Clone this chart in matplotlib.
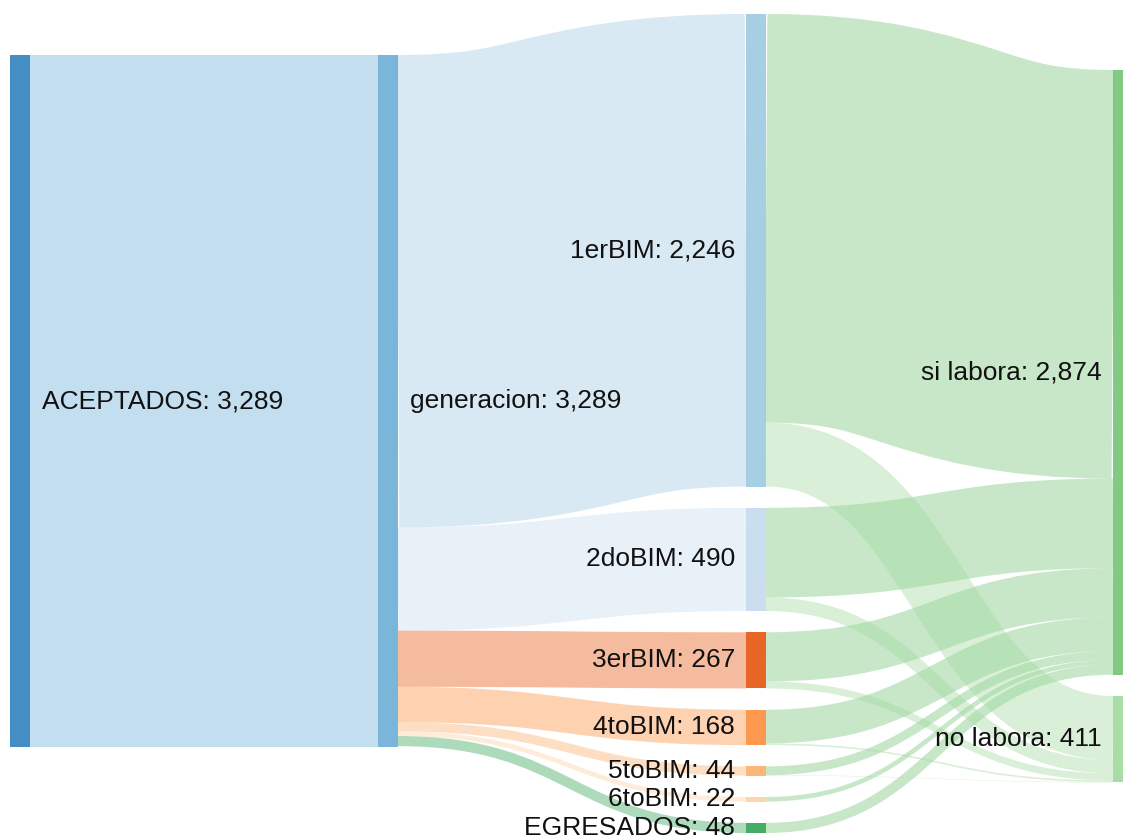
import matplotlib.pyplot as plt
from matplotlib.path import Path
from matplotlib.patches import PathPatch, Rectangle

# nodes per column
col0 = ["ACEPTADOS"]
col1 = ["generacion"]
col2 = ["1erBIM", "2doBIM", "3erBIM", "4toBIM", "5toBIM", "6toBIM", "EGRESADOS"]
col3 = ["si labora", "no labora"]

# flows
src_first = ["ACEPTADOS"]
dst_first = ["generacion"]
val_first = [3289]

bim_values = [2246, 490, 267, 168, 44, 22, 48]
si_labora = [1942, 426, 234, 160, 42, 22, 48]
no_labora = [304, 64, 33, 8, 2, 0, 0]

node_colors = {
    "ACEPTADOS": "#3182bd", "generacion": "#6baed6", "1erBIM": "#9ecae1",
    "2doBIM": "#c6dbef", "3erBIM": "#e6550d", "4toBIM": "#fd8d3c",
    "5toBIM": "#fdae6b", "6toBIM": "#fdd0a2", "EGRESADOS": "#31a354",
    "si labora": "#74c476", "no labora": "#a1d99b",
}

links = list(zip(src_first, dst_first, val_first))
links += [("generacion", b, v) for b, v in zip(col2, bim_values)]
links += [(b, "si labora", v) for b, v in zip(col2, si_labora) if v > 0]
links += [(b, "no labora", v) for b, v in zip(col2, no_labora) if v > 0]

W, H, DPI = 1123, 840, 100
columns = [col0, col1, col2, col3]
col_x = [10, 378, 746, 1113]
col_top = [55, 55, 14, 70]
node_w = 20
gap = 21.3
k = 692 / 3289  # px per person

# node values and positions
val_in = {}
val_out = {}
for s, t, v in links:
    val_out[s] = val_out.get(s, 0) + v
    val_in[t] = val_in.get(t, 0) + v
nodes = {}
for ci, col in enumerate(columns):
    y = col_top[ci]
    for name in col:
        value = max(val_in.get(name, 0), val_out.get(name, 0))
        h = value * k
        nodes[name] = dict(x=col_x[ci], y=y, h=h, value=value, col=ci)
        y += h + gap

fig = plt.figure(figsize=(W / DPI, H / DPI), dpi=DPI)
ax = fig.add_axes([0, 0, 1, 1])
ax.set_xlim(0, W)
ax.set_ylim(H, 0)
ax.axis("off")

# link stacking like d3-sankey
out_off = {n: 0.0 for n in nodes}
in_off = {n: 0.0 for n in nodes}
src_pos = {}
dst_pos = {}
for s in nodes:
    outs = sorted([l for l in links if l[0] == s], key=lambda l: nodes[l[1]]["y"])
    for l in outs:
        w = l[2] * k
        src_pos[l] = nodes[s]["y"] + out_off[s] + w / 2
        out_off[s] += w
for t in nodes:
    ins = sorted([l for l in links if l[1] == t], key=lambda l: nodes[l[0]]["y"])
    for l in ins:
        w = l[2] * k
        dst_pos[l] = nodes[t]["y"] + in_off[t] + w / 2
        in_off[t] += w

for l in links:
    s, t, v = l
    x0 = nodes[s]["x"] + node_w
    x1 = nodes[t]["x"]
    xm = (x0 + x1) / 2
    y0, y1 = src_pos[l], dst_pos[l]
    path = Path([(x0, y0), (xm, y0), (xm, y1), (x1, y1)],
                [Path.MOVETO, Path.CURVE4, Path.CURVE4, Path.CURVE4])
    ax.add_patch(PathPatch(path, fill=False, edgecolor=node_colors[t], alpha=0.4,
                           lw=v * k * 72 / DPI, capstyle="butt", zorder=1))

for name, n in nodes.items():
    ax.add_patch(Rectangle((n["x"], n["y"]), node_w, n["h"], facecolor=node_colors[name],
                           alpha=0.9, edgecolor="none", zorder=2))
    label = f"{name}: {n['value']:,}"
    cy = n["y"] + n["h"] / 2
    if n["col"] < 2:
        ax.text(n["x"] + node_w + 12, cy, label, ha="left", va="center",
                fontsize=19, family="Liberation Sans", color="#111111", zorder=3)
    else:
        ax.text(n["x"] - 11, cy, label, ha="right", va="center",
                fontsize=19, family="Liberation Sans", color="#111111", zorder=3)

fig.savefig("out.png", dpi=DPI)
